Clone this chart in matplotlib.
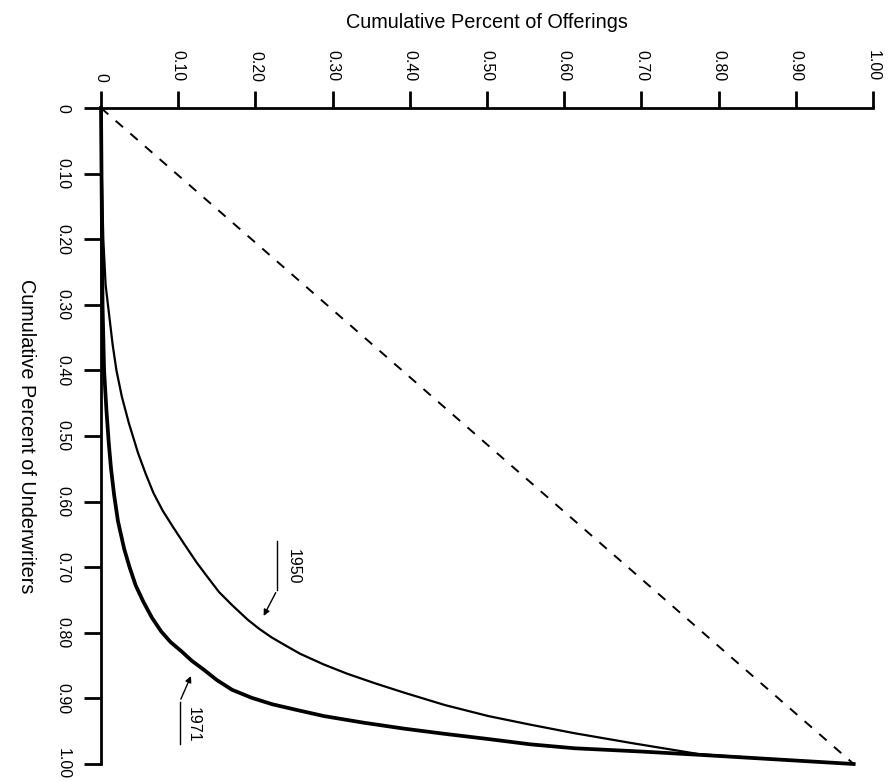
"""
Lorenz curves of underwriter concentration, 1950 vs 1971.
Chart is drawn rotated: offerings run along the top, underwriters down the side.
"""

import matplotlib
matplotlib.use("Agg")
import matplotlib.pyplot as plt

plt.rcParams["font.family"] = ["Liberation Sans", "DejaVu Sans"]

# cumulative share of offerings (x) and of underwriters (y)
x_1950 = [0.0, 0.001, 0.003, 0.006, 0.010, 0.015, 0.020, 0.027, 0.036, 0.048,
          0.058, 0.068, 0.080, 0.094, 0.108, 0.124, 0.138, 0.153, 0.170,
          0.190, 0.205, 0.221, 0.240, 0.258, 0.288, 0.318, 0.355, 0.392,
          0.445, 0.502, 0.556, 0.613, 0.687, 0.775, 0.875, 0.975]
y_1950 = [0.0, 0.10, 0.20, 0.27, 0.31, 0.36, 0.40, 0.44, 0.48, 0.526,
          0.558, 0.587, 0.614, 0.64, 0.665, 0.693, 0.715, 0.738, 0.758,
          0.78, 0.794, 0.807, 0.82, 0.832, 0.848, 0.862, 0.877, 0.891,
          0.91, 0.927, 0.94, 0.953, 0.968, 0.985, 0.993, 1.0]

x_1971 = [0.0, 0.001, 0.002, 0.004, 0.007, 0.010, 0.013, 0.017, 0.022, 0.030,
          0.037, 0.045, 0.055, 0.066, 0.078, 0.090, 0.104, 0.118, 0.134,
          0.150, 0.170, 0.195, 0.222, 0.255, 0.289, 0.340, 0.392, 0.445,
          0.502, 0.556, 0.613, 0.700, 0.775, 0.875, 0.975]
y_1971 = [0.0, 0.15, 0.30, 0.40, 0.46, 0.51, 0.55, 0.59, 0.63, 0.672,
          0.70, 0.728, 0.753, 0.777, 0.798, 0.814, 0.828, 0.843, 0.857,
          0.872, 0.887, 0.899, 0.909, 0.918, 0.927, 0.937, 0.946, 0.954,
          0.962, 0.97, 0.976, 0.981, 0.986, 0.993, 1.0]

equality_x = [0.0, 0.975]
equality_y = [0.0, 1.0]

ticks = [0.0, 0.1, 0.2, 0.3, 0.4, 0.5, 0.6, 0.7, 0.8, 0.9, 1.0]
tick_labels = ["0", "0.10", "0.20", "0.30", "0.40", "0.50",
               "0.60", "0.70", "0.80", "0.90", "1.00"]

fig = plt.figure(figsize=(8.89, 7.81), dpi=100)
# axes box in pixels: left 101, top 108, 772 wide, 656 tall
ax = fig.add_axes([101 / 889, 1 - 764 / 781, 772 / 889, 656 / 781])

ax.plot(equality_x, equality_y, color="black", lw=1.4,
        dashes=(5, 5), clip_on=False)
ax.plot(x_1950, y_1950, color="black", lw=1.6, clip_on=False,
        solid_joinstyle="round")
ax.plot(x_1971, y_1971, color="black", lw=2.7, clip_on=False,
        solid_joinstyle="round")

ax.set_xlim(0, 1)
ax.set_ylim(1, 0)

for side in ["right", "bottom"]:
    ax.spines[side].set_visible(False)
for side in ["top", "left"]:
    ax.spines[side].set_linewidth(2.0)

ax.xaxis.tick_top()
ax.set_xticks(ticks)
ax.set_xticklabels(tick_labels, rotation=270)
ax.set_yticks(ticks)
ax.set_yticklabels(tick_labels, rotation=270, va="center")
ax.tick_params(axis="both", direction="out", length=12, width=2.0,
               labelsize=11.5, color="black")
ax.tick_params(axis="x", pad=7)
ax.tick_params(axis="y", pad=10)

ax.xaxis.set_label_position("top")
ax.set_xlabel("Cumulative Percent of Offerings", fontsize=14.3)
ax.xaxis.label.set_va("center")
ax.xaxis.set_label_coords(0.5, 1 + 86 / 656)

ax.set_ylabel("Cumulative Percent of Underwriters", fontsize=14.3,
              rotation=270, va="center", ha="center")
ax.yaxis.set_label_coords(-75 / 772, 0.5)

# year labels with their leader lines
ax.plot([0.228, 0.228], [0.66, 0.735], color="black", lw=1.0)
ax.annotate("", xy=(0.209, 0.778), xytext=(0.228, 0.735),
            arrowprops=dict(arrowstyle="-|>", color="black", lw=1.0,
                            mutation_scale=9))
ax.text(0.249, 0.70, "1950", rotation=270, fontsize=11.5,
        ha="center", va="center")

ax.plot([0.102, 0.102], [0.905, 0.97], color="black", lw=1.0)
ax.annotate("", xy=(0.118, 0.862), xytext=(0.102, 0.905),
            arrowprops=dict(arrowstyle="-|>", color="black", lw=1.0,
                            mutation_scale=9))
ax.text(0.119, 0.94, "1971", rotation=270, fontsize=11.5,
        ha="center", va="center")

fig.savefig("out.png", dpi=100)
